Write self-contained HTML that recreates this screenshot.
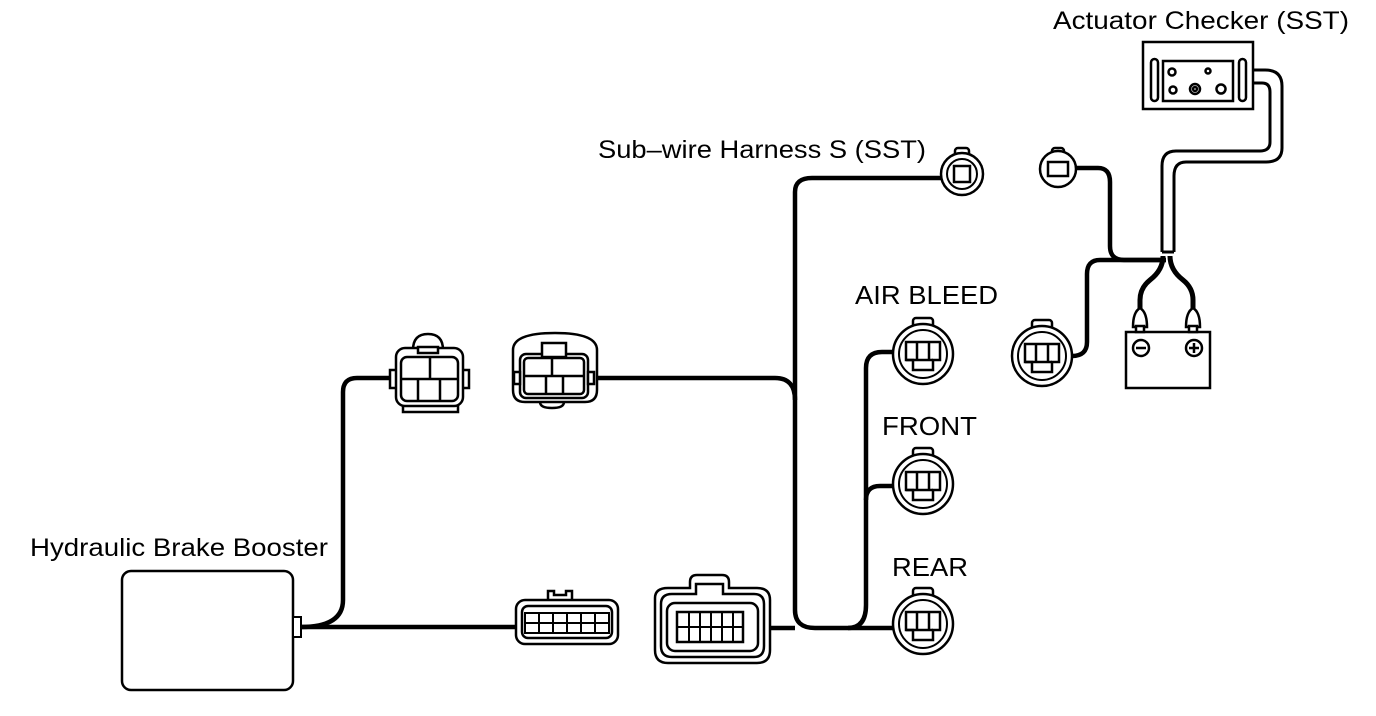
<!DOCTYPE html>
<html><head><style>
html,body{margin:0;padding:0;background:#fff;}
svg{display:block;}
text{font-family:"Liberation Sans",Arial,sans-serif;fill:#000;}
</style></head><body>
<svg width="1376" height="716" viewBox="0 0 1376 716" xmlns="http://www.w3.org/2000/svg">
<g fill="none" stroke="#000" stroke-width="4.5" stroke-linejoin="round">
<path d="M301 627 H516"/>
<path d="M301 627 Q343 627 343 600 V392 Q343 378 357 378 H396"/>
<path d="M597 378 H775 Q795 378 795 400 V610 Q795 628 815 628 H893"/>
<path d="M770 628 H795"/>
<path d="M795 400 V192 Q795 178 812 178 H942"/>
<path d="M848 628 Q866 628 866 605 V368 Q866 352 882 352 H893"/>
<path d="M866 500 Q866 486 880 486 H893"/>
<path d="M1076 168 H1098 Q1110 168 1110 182 V246 Q1110 260 1124 260 H1166"/>
<path d="M1166 260 H1100 Q1087 260 1087 274 V342 Q1087 356 1072 356"/>
<path d="M1163 256 Q1163 270 1150 280 Q1140 288 1140 300 V312" stroke-width="5"/>
<path d="M1170 256 Q1170 270 1183 280 Q1193 288 1193 300 V312" stroke-width="5"/>
</g>
<g fill="none" stroke="#000" stroke-width="3">
<path d="M1253 70 H1265 Q1282 70 1282 86 V148 Q1282 162 1266 162 H1186 Q1174 162 1174 176 V252"/>
<path d="M1253 83 H1262 Q1270 83 1270 92 V142 Q1270 151 1260 151 H1176 Q1162 151 1162 166 V252"/>
<path d="M1162 252 H1174"/>
</g>
<rect x="122" y="571" width="171" height="119" rx="9" fill="#fff" stroke="#000" stroke-width="2.5"/>
<rect x="293" y="617" width="8" height="20" fill="#fff" stroke="#000" stroke-width="2"/>
<g fill="#fff" stroke="#000" stroke-width="2.5">
<path d="M413 350 Q413 334 428 334 Q443 334 443 350 Z"/>
<rect x="390" y="370" width="8" height="18"/>
<rect x="461" y="370" width="8" height="18"/>
<rect x="403" y="400" width="55" height="12"/>
<rect x="396" y="348" width="67" height="58" rx="9"/>
<rect x="401" y="357" width="57" height="44" rx="6"/>
<path d="M418 347 h20 v6 h-20 z"/>
<path d="M401 379 H458 M430 357 V379 M418 379 V401 M440 379 V401" fill="none"/>
</g>
<g fill="#fff" stroke="#000" stroke-width="2.5">
<path d="M540 398 h24 v4 q0 6 -12 6 q-12 0 -12 -6 z"/>
<path d="M513 350 Q513 333 555 333 Q597 333 597 350 V390 Q597 402 585 402 H525 Q513 402 513 390 Z"/>
<rect x="520" y="354" width="68" height="44" rx="6"/>
<rect x="524" y="358" width="60" height="36" rx="4"/>
<rect x="542" y="343" width="24" height="14"/>
<rect x="514" y="372" width="6" height="12"/>
<rect x="588" y="372" width="6" height="12"/>
<path d="M524 376 H584 M552 358 V376 M546 376 V394 M563 376 V394" fill="none"/>
</g>
<g fill="#fff" stroke="#000" stroke-width="2.5">
<path d="M548 603 V591 h6 v4 h12 v-4 h6 v12"/>
<rect x="516" y="600" width="102" height="44" rx="9"/>
<rect x="522" y="606" width="90" height="32" rx="6"/>
<rect x="525" y="613" width="84" height="20" fill="none" stroke-width="2"/>
<path d="M525 623 H609 M539 613 V633 M553 613 V633 M567 613 V633 M581 613 V633 M595 613 V633" fill="none" stroke-width="2"/>
</g>
<g fill="#fff" stroke="#000" stroke-width="2.5">
<path d="M655 598 Q655 588 668 588 H690 V582 Q690 575 697 575 H722 Q729 575 729 582 V588 H757 Q770 588 770 600 V650 Q770 663 757 663 H668 Q655 663 655 650 Z"/>
<path d="M661 604 Q661 594 672 594 H696 V584 H723 V594 H754 Q764 594 764 604 V646 Q764 657 754 657 H672 Q661 657 661 646 Z"/>
<rect x="667" y="603" width="91" height="48" rx="8"/>
<rect x="677" y="612" width="66" height="30" fill="none"/>
<path d="M677 627 H743 M689 612 V642 M700 612 V642 M711 612 V642 M722 612 V642 M733 612 V642" fill="none" stroke-width="2"/>
</g>
<defs>
<g id="r3">
<rect x="-10" y="-36" width="20" height="12" rx="3" fill="#fff" stroke="#000" stroke-width="2.5"/>
<circle r="30" fill="#fff" stroke="#000" stroke-width="2.5"/>
<circle r="24" fill="none" stroke="#000" stroke-width="2"/>
<path d="M-17 -12 H17 V6 H10 V16 H-10 V6 H-17 Z" fill="none" stroke="#000" stroke-width="2.5"/>
<path d="M-17 6 H10 M-6 -12 V6 M6 -12 V6" fill="none" stroke="#000" stroke-width="2.5"/>
</g>
</defs>
<use href="#r3" x="923" y="354"/>
<use href="#r3" x="923" y="484"/>
<use href="#r3" x="923" y="624"/>
<use href="#r3" x="1042" y="356"/>
<g fill="#fff" stroke="#000" stroke-width="2.5">
<rect x="955" y="148" width="14" height="10" rx="3"/>
<circle cx="962" cy="174" r="21"/>
<circle cx="962" cy="174" r="15" fill="none" stroke-width="2"/>
<rect x="954" y="166" width="16" height="16" fill="none"/>
</g>
<g fill="#fff" stroke="#000" stroke-width="2.5">
<rect x="1052" y="148" width="12" height="9" rx="3"/>
<circle cx="1058" cy="169" r="18"/>
<rect x="1048" y="162" width="20" height="14" fill="none"/>
</g>
<g fill="#fff" stroke="#000" stroke-width="2.5">
<rect x="1143" y="42" width="110" height="67"/>
<rect x="1163" y="61" width="70" height="40"/>
<rect x="1151" y="59" width="7" height="42" rx="3.5"/>
<rect x="1239" y="59" width="7" height="42" rx="3.5"/>
<circle cx="1172" cy="72" r="3.5"/>
<circle cx="1208" cy="71" r="2.5"/>
<circle cx="1173" cy="90" r="3.5"/>
<circle cx="1195" cy="89" r="5"/>
<circle cx="1195" cy="89" r="2"/>
<circle cx="1221" cy="89" r="4.5"/>
</g>
<g fill="#fff" stroke="#000" stroke-width="2.5">
<rect x="1126" y="332" width="84" height="56"/>
<path d="M1133 327 Q1133 312 1140 308 Q1147 312 1147 327 Z"/>
<path d="M1186 327 Q1186 312 1193 308 Q1200 312 1200 327 Z"/>
<rect x="1136" y="326" width="8" height="6"/>
<rect x="1189" y="326" width="8" height="6"/>
<circle cx="1141" cy="348" r="8"/>
<circle cx="1194" cy="348" r="8"/>
<path d="M1136 348 H1146 M1189 348 H1199 M1194 343 V353" fill="none"/>
</g>
<text x="1053" y="29" font-size="25" textLength="296" lengthAdjust="spacingAndGlyphs">Actuator Checker (SST)</text>
<text x="598" y="158" font-size="25" textLength="328" lengthAdjust="spacingAndGlyphs">Sub–wire Harness S (SST)</text>
<text x="855" y="304" font-size="26" textLength="143" lengthAdjust="spacingAndGlyphs">AIR BLEED</text>
<text x="882" y="435" font-size="26" textLength="95" lengthAdjust="spacingAndGlyphs">FRONT</text>
<text x="892" y="576" font-size="26" textLength="76" lengthAdjust="spacingAndGlyphs">REAR</text>
<text x="30" y="556" font-size="25" textLength="298" lengthAdjust="spacingAndGlyphs">Hydraulic Brake Booster</text>
</svg>
</body></html>
